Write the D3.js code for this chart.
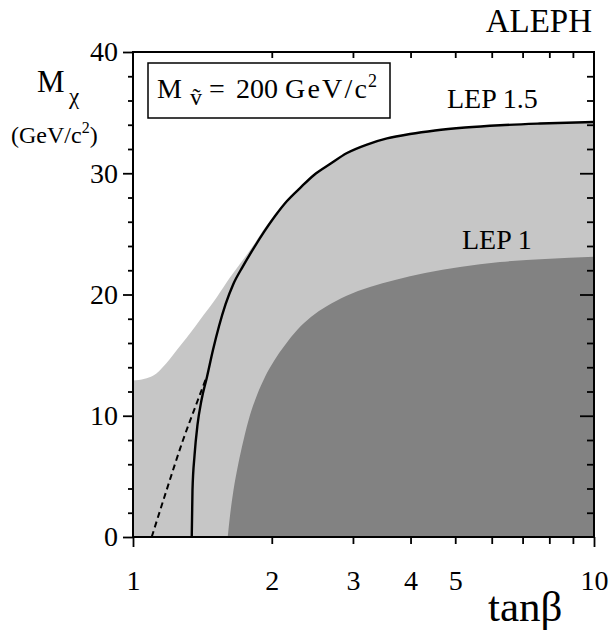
<!DOCTYPE html>
<html><head><meta charset="utf-8">
<script src="https://cdn.jsdelivr.net/npm/d3@7"></script>
<style>
body{margin:0;background:#fff}
svg{display:block}
text{font-family:"Liberation Serif","Times New Roman",serif;fill:#000}
</style>
</head><body>
<svg id="c" width="614" height="635"></svg>
<script>
// ---- data (tanβ, M_χ in GeV/c²) ----
const tanbLep15 = [1.341, 1.346, 1.360, 1.380, 1.408, 1.447, 1.491, 1.537, 1.588, 1.650, 1.730, 1.822, 1.924, 2.033, 2.158, 2.303, 2.470, 2.675, 2.912, 3.218, 3.556, 3.989, 4.520, 5.252, 6.253, 7.637, 10];
const mLep15    = [0, 3.88, 6.76, 9.24, 11.30, 13.20, 15.42, 17.40, 19.20, 20.85, 22.30, 23.74, 25.16, 26.47, 27.71, 28.78, 29.86, 30.76, 31.67, 32.37, 32.87, 33.24, 33.53, 33.77, 33.96, 34.10, 34.23];

const tanbEdge = [1.0, 1.06, 1.105, 1.14, 1.18, 1.22, 1.28, 1.33, 1.397, 1.521, 1.623, 1.767, 1.839, 1.933];
const mEdge    = [12.9, 13.05, 13.3, 13.7, 14.3, 15.0, 16.0, 16.8, 17.9, 19.8, 21.4, 23.3, 24.25, 25.5];

const tanbLep1 = [1.605, 1.624, 1.652, 1.690, 1.737, 1.794, 1.858, 1.933, 2.022, 2.137, 2.270, 2.432, 2.636, 2.898, 3.266, 3.701, 4.300, 5.121, 6.253, 7.829, 10];
const mLep1    = [0, 1.81, 3.88, 5.94, 8.0, 10.06, 11.71, 13.20, 14.52, 15.84, 17.07, 18.14, 19.05, 19.88, 20.62, 21.20, 21.77, 22.27, 22.68, 22.93, 23.12];

const tanbDash = [1.098, 1.183, 1.284, 1.375, 1.445];
const mDash    = [0, 3.88, 8.0, 11.05, 13.22];

const yMajor = [0, 10, 20, 30, 40];
const yMinor = [2, 4, 6, 8, 12, 14, 16, 18, 22, 24, 26, 28, 32, 34, 36, 38];
const xMinor = [2, 3, 4, 5, 6, 7, 8, 9];
const xLabels = [1, 2, 3, 4, 5, 10];

// ---- layout ----
const X0 = 133, X1 = 594, Y0 = 537, Y1 = 52;
const x = d3.scaleLog().domain([1, 10]).range([X0, X1]);
const y = d3.scaleLinear().domain([0, 40]).range([Y0, Y1]);
const svg = d3.select("#c");
const zip = (a, b) => a.map((v, i) => [v, b[i]]);

const area = d3.area().x(d => x(d[0])).y0(y(0)).y1(d => y(d[1])).curve(d3.curveMonotoneX);
const line = d3.line().x(d => x(d[0])).y(d => y(d[1])).curve(d3.curveMonotoneX);

// light region
const lastEdge = tanbEdge[tanbEdge.length - 1];
const lightB = zip(tanbEdge, mEdge).concat(zip(tanbLep15, mLep15).filter(d => d[0] > lastEdge + 0.08));
svg.append("path").attr("d", area(lightB)).attr("fill", "#c6c6c6");
// dark region (LEP 1)
svg.append("path").attr("d", area(zip(tanbLep1, mLep1))).attr("fill", "#828282");
// LEP 1.5 solid line
svg.append("path").attr("d", line(zip(tanbLep15, mLep15)))
  .attr("fill", "none").attr("stroke", "#000").attr("stroke-width", 2.4);
// dashed line
svg.append("path").attr("d", line(zip(tanbDash, mDash)))
  .attr("fill", "none").attr("stroke", "#000").attr("stroke-width", 2).attr("stroke-dasharray", "6,4");

// ---- axes ----
function styleAxis(g) {
  g.select(".domain").remove();
  g.selectAll("line").attr("stroke", "#000").attr("stroke-width", 1.8);
  g.selectAll("text").attr("font-family", "'Liberation Serif','Times New Roman',serif").attr("font-size", 28).attr("fill", "#000");
}
svg.append("g").attr("transform", `translate(${X0},0)`)
  .call(d3.axisLeft(y).tickValues(yMajor).tickSize(10).tickPadding(5)).call(styleAxis);
svg.append("g").attr("transform", `translate(${X0},0)`)
  .call(d3.axisLeft(y).tickValues(yMinor).tickSize(5).tickFormat("")).call(styleAxis);
svg.append("g").attr("transform", `translate(${X1},0)`)
  .call(d3.axisRight(y).tickValues([10, 20, 30]).tickSize(-14).tickFormat("")).call(styleAxis);
svg.append("g").attr("transform", `translate(${X1},0)`)
  .call(d3.axisRight(y).tickValues(yMinor).tickSize(-7).tickFormat("")).call(styleAxis);
svg.append("g").attr("transform", `translate(0,${Y0})`)
  .call(d3.axisBottom(x).tickValues(xMinor).tickSize(7).tickFormat("")).call(styleAxis);
svg.append("g").attr("transform", `translate(0,${Y0})`)
  .call(d3.axisBottom(x).tickValues([1, 10]).tickSize(10).tickFormat("")).call(styleAxis);
svg.append("g").attr("transform", `translate(0,${Y0})`)
  .call(d3.axisBottom(x).tickValues(xLabels).tickSize(0).tickPadding(33).tickFormat(d3.format("d"))).call(styleAxis);
svg.append("g").attr("transform", `translate(0,${Y1})`)
  .call(d3.axisTop(x).tickValues(xMinor).tickSize(-6).tickFormat("")).call(styleAxis);

svg.append("rect").attr("x", X0).attr("y", Y1).attr("width", X1 - X0).attr("height", Y0 - Y1)
  .attr("fill", "none").attr("stroke", "#000").attr("stroke-width", 2);

// ---- texts ----
svg.append("text").attr("x", 592).attr("y", 32).attr("text-anchor", "end").attr("font-size", 33).text("ALEPH");

svg.append("text").attr("x", 37).attr("y", 92).attr("font-size", 31).text("M");
svg.append("text").attr("x", 69).attr("y", 104).attr("font-size", 23).text("χ");
const gu = svg.append("text").attr("x", 11).attr("y", 143).attr("font-size", 24);
gu.append("tspan").text("(GeV/c");
gu.append("tspan").attr("font-size", 16).attr("dy", -10).text("2");
gu.append("tspan").attr("dy", 10).text(")");

svg.append("text").attr("x", 488).attr("y", 621).attr("font-size", 43).text("tanβ");

svg.append("rect").attr("x", 148).attr("y", 63).attr("width", 242).attr("height", 55)
  .attr("fill", "#fff").attr("stroke", "#000").attr("stroke-width", 1.5);
svg.append("text").attr("x", 157).attr("y", 98).attr("font-size", 28).text("M");
svg.append("text").attr("x", 190).attr("y", 105).attr("font-size", 24).text("ṽ");
svg.append("text").attr("x", 209).attr("y", 98).attr("font-size", 28).text("=");
svg.append("text").attr("x", 236).attr("y", 98).attr("font-size", 28).text("200");
svg.append("text").attr("x", 285).attr("y", 98).attr("font-size", 28).attr("textLength", 82).text("GeV/c");
svg.append("text").attr("x", 368).attr("y", 87).attr("font-size", 18).text("2");

svg.append("text").attr("x", 447).attr("y", 108).attr("font-size", 28).text("LEP 1.5");
svg.append("text").attr("x", 462).attr("y", 249).attr("font-size", 28).text("LEP 1");
</script>
</body></html>
